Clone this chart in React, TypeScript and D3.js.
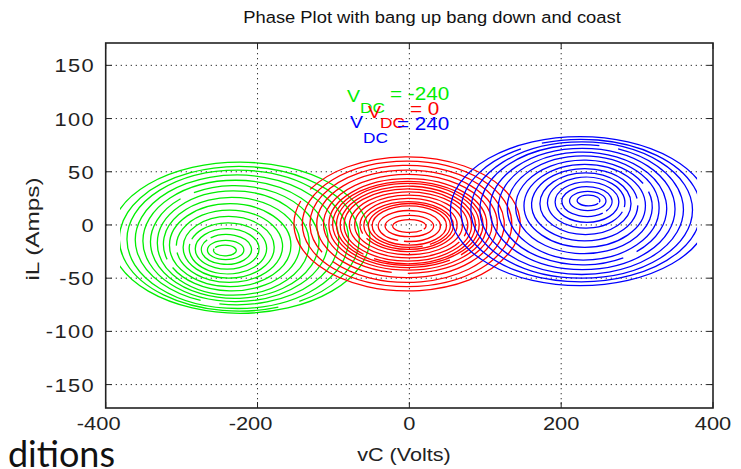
import React from "react";
import * as d3 from "d3";

// ---- chart data ----
const titleText = "Phase Plot with bang up bang down and coast";
const xLabelText = "vC (Volts)";
const yLabelText = "iL (Amps)";
const slideText = "ditions";

const xTicks = [-400, -200, 0, 200, 400];
const yTicks = [-150, -100, -50, 0, 50, 100, 150];

const vdcValues = [-240, 0, 240];
const seriesColors = ["#00ee00", "#ff0000", "#0000ff"];

// spiral centres (vC volts, iL amps)
const spiralCenters: [number, number][] = [
  [-243, -24],
  [0, -1],
  [236, 23],
];
// trajectories stop at these vC values (green enters from the left, blue from the right)
const clipLimits: [number, number][] = [
  [-381, 400],
  [-400, 400],
  [-400, 379],
];

// rings: [rx volts, ry amps, centre drift volts, centre drift amps, gap angle deg (-1 = none)]
const greenRings: number[][] = [
  [15, 5, 0, 0, 200],
  [24, 9, 1, 0.5, -1],
  [33, 14, 2, 1, 220],
  [42, 19, 3, 1.5, -1],
  [51, 24, 4, 2, 190],
  [60, 29, 5, 3, -1],
  [70, 34, 6, 4, 170],
  [80, 39, 7, 5, -1],
  [90, 44, 9, 6, 150],
  [100, 49, 11, 7, -1],
  [111, 53, 13, 8, 230],
  [122, 57, 14, 9, -1],
  [134, 61, 16, 10, 100],
  [146, 65, 17, 10.5, -1],
  [158, 68, 19, 11, 60],
  [171, 71, 20, 12, -1],
];
const redRings: number[][] = [
  [22, 6, 0, 0, 30],
  [32, 10, 0, 0, -1],
  [41, 14.5, 0, 0, 100],
  [49, 18.5, 0, 0.5, -1],
  [54, 20.5, 0, 0.5, 60],
  [59, 22.5, -1, 0.5, -1],
  [64, 25, -1, 1, 150],
  [71, 28, -1, 1, -1],
  [78, 31, -1, 1, 20],
  [84, 34, -2, 1, -1],
  [89, 36.5, -2, 1, 120],
  [94, 38.5, -2, 1.5, -1],
  [99, 40.5, -2, 1.5, 45],
  [104, 43, -2, 1.5, -1],
  [111, 46.5, -2, 2, 90],
  [119, 50.5, -3, 2, -1],
  [128, 55, -3, 2, 140],
  [138, 59, -3, 2, -1],
  [149, 63, -3, 2, 200],
];
const blueRings: number[][] = [
  [15, 5, 0, 0, 20],
  [24, 9, -1, -0.5, -1],
  [33, 14, -2, -1, 40],
  [42, 19, -2, -1.5, -1],
  [51, 24, -3, -2, 10],
  [60, 29, -4, -3, -1],
  [70, 34, -5, -4, 350],
  [80, 39, -5, -5, -1],
  [90, 44, -6, -6, 330],
  [100, 49, -7, -7, -1],
  [111, 53, -8, -7.5, 50],
  [122, 57, -8, -8, -1],
  [134, 61, -9, -8.5, 280],
  [146, 64, -9, -9, -1],
  [158, 67, -10, -9.5, 240],
  [171, 70, -11, -10, -1],
];
const ringSets = [greenRings, redRings, blueRings];

// ---- layout ----
const W = 741;
const H = 469;
const plot = { left: 105.7, right: 713, top: 43, bottom: 408 };
const font = "'Liberation Sans', Arial, Helvetica, sans-serif";

// legend text placement in pixels: [V x, V baseline, DC x, DC baseline, value x, value baseline]
const legendPos = [
  [347, 102, 360, 113, 390, 100],
  [368, 118, 380, 128, 410, 115],
  [350, 128, 363, 143, 397, 130],
];

function ringPath(gapDeg: number) {
  const p = d3.path();
  const gap = gapDeg < 0 ? 0 : 11;
  const start = gapDeg < 0 ? 0 : gapDeg;
  p.arc(0, 0, 1, ((start + gap) * Math.PI) / 180, ((start + 360) * Math.PI) / 180);
  if (gap === 0) p.closePath();
  return p.toString();
}

function Stretched({ x, y, anchor, size, fill, children, rotate, sx = 1.15, spacing = 0 }: any) {
  return (
    <g transform={`translate(${x},${y})${rotate ? ` rotate(${rotate})` : ""} scale(${sx},1)`}>
      <text textAnchor={anchor} fontSize={size} fill={fill} fontFamily={font} letterSpacing={spacing}>
        {children}
      </text>
    </g>
  );
}

export default function App() {
  const x = d3.scaleLinear().domain([-400, 400]).range([plot.left, plot.right]);
  const y = d3.scaleLinear().domain([-172, 171]).range([plot.bottom, plot.top]);
  const tickLen = 6;

  return (
    <svg
      width={W}
      height={H}
      viewBox={`0 0 ${W} ${H}`}
      style={{ position: "absolute", left: 0, top: 0, background: "#fff" }}
    >
      <defs>
        <clipPath id="plotClip">
          <rect x={plot.left} y={plot.top} width={plot.right - plot.left} height={plot.bottom - plot.top} />
        </clipPath>
        {clipLimits.map(([lo, hi], i) => (
          <clipPath id={`seriesClip${i}`} key={i}>
            <rect x={x(lo)} y={plot.top} width={x(hi) - x(lo)} height={plot.bottom - plot.top} />
          </clipPath>
        ))}
      </defs>

      {/* title */}
      <Stretched x={432} y={23} anchor="middle" size={17} fill="#111" sx={1.08}>
        {titleText}
      </Stretched>

      {/* grid */}
      <g stroke="#333" strokeWidth={1} strokeDasharray="1.3 3.7">
        {xTicks
          .filter((t) => t > -400 && t < 400)
          .map((t) => (
            <line key={`gx${t}`} x1={x(t)} x2={x(t)} y1={plot.top} y2={plot.bottom} />
          ))}
        {yTicks.map((t) => (
          <line key={`gy${t}`} x1={plot.left} x2={plot.right} y1={y(t)} y2={y(t)} />
        ))}
      </g>

      {/* spirals */}
      <g clipPath="url(#plotClip)">
        {ringSets.map((rings, si) => (
          <g key={si} clipPath={`url(#seriesClip${si})`}>
            {rings.map(([rx, ry, dx, dy, gapDeg], ri) => {
              const [cx, cy] = spiralCenters[si];
              const sx = x(rx) - x(0);
              const sy = y(0) - y(ry);
              return (
                <g key={ri} transform={`translate(${x(cx + dx)},${y(cy + dy)}) scale(${sx},${sy})`}>
                  <path
                    d={ringPath(gapDeg)}
                    fill="none"
                    stroke={seriesColors[si]}
                    strokeWidth={1.3}
                    vectorEffect="non-scaling-stroke"
                  />
                </g>
              );
            })}
          </g>
        ))}
      </g>

      {/* V_DC labels */}
      {vdcValues.map((v, i) => {
        const [vx, vy, dcx, dcy, ex, ey] = legendPos[i];
        return (
          <g key={`lab${v}`}>
            <Stretched x={vx} y={vy} anchor="start" size={17} fill={seriesColors[i]}>V</Stretched>
            <Stretched x={dcx} y={dcy} anchor="start" size={15} fill={seriesColors[i]}>DC</Stretched>
            <Stretched x={ex} y={ey} anchor="start" size={18} fill={seriesColors[i]}>{`= ${v}`}</Stretched>
          </g>
        );
      })}

      {/* ticks */}
      <g stroke="#222" strokeWidth={1}>
        {xTicks.map((t) => (
          <g key={`tx${t}`}>
            <line x1={x(t)} x2={x(t)} y1={plot.bottom} y2={plot.bottom - tickLen} />
            <line x1={x(t)} x2={x(t)} y1={plot.top} y2={plot.top + tickLen} />
          </g>
        ))}
        {yTicks.map((t) => (
          <g key={`ty${t}`}>
            <line x1={plot.left} x2={plot.left + tickLen} y1={y(t)} y2={y(t)} />
            <line x1={plot.right} x2={plot.right - tickLen} y1={y(t)} y2={y(t)} />
          </g>
        ))}
      </g>

      {/* frame */}
      <rect
        x={plot.left}
        y={plot.top}
        width={plot.right - plot.left}
        height={plot.bottom - plot.top}
        fill="none"
        stroke="#222"
        strokeWidth={1.6}
      />

      {/* tick labels */}
      {xTicks.map((t) => (
        <Stretched key={`lx${t}`} x={x(t) - (t < 0 ? 7 : 0)} y={430} anchor="middle" size={19} fill="#222">
          {String(t)}
        </Stretched>
      ))}
      {yTicks.map((t) => (
        <Stretched key={`ly${t}`} x={95} y={y(t) + 7} anchor="end" size={19} fill="#222" spacing={1.2}>
          {String(t)}
        </Stretched>
      ))}

      {/* axis labels */}
      <Stretched x={404} y={461} anchor="middle" size={18} fill="#222" sx={1.2}>
        {xLabelText}
      </Stretched>
      <Stretched x={39} y={229} anchor="middle" size={19} fill="#222" rotate={-90} sx={1.28}>
        {yLabelText}
      </Stretched>

      {/* fragment of slide text */}
      <text x={115} y={467} textAnchor="end" fontSize={36} fontFamily="Lato, 'Open Sans', sans-serif" fill="#111">
        {slideText}
      </text>
    </svg>
  );
}
